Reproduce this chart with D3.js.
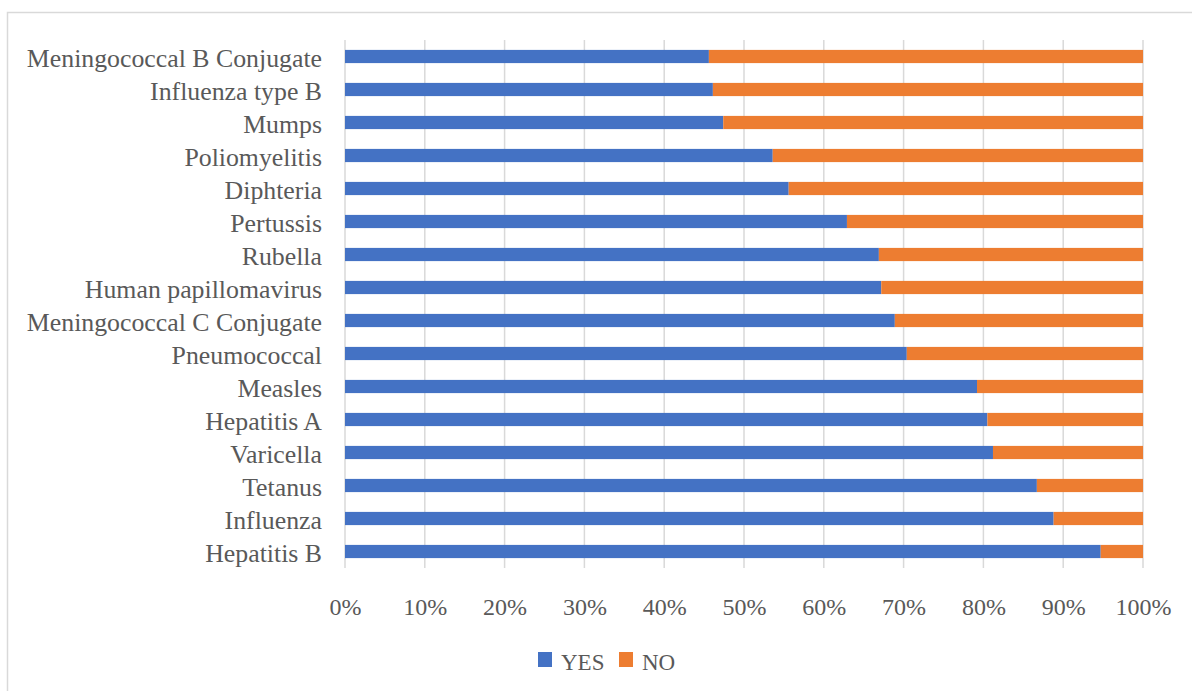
<!DOCTYPE html>
<html>
<head>
<meta charset="utf-8">
<script src="https://cdn.jsdelivr.net/npm/d3@7"></script>
<style>
  html, body { margin:0; padding:0; background:#ffffff; }
  svg text { font-family:"Liberation Serif", "DejaVu Serif", serif; fill:#595959; }
</style>
</head>
<body>
<div id="chart_container"></div>
<script>
// Categories from top to bottom, as they show in the picture.
var categories = [
  "Meningococcal B Conjugate",
  "Influenza type B",
  "Mumps",
  "Poliomyelitis",
  "Diphteria",
  "Pertussis",
  "Rubella",
  "Human papillomavirus",
  "Meningococcal C Conjugate",
  "Pneumococcal",
  "Measles",
  "Hepatitis A",
  "Varicella",
  "Tetanus",
  "Influenza",
  "Hepatitis B"
];
var values_yes  = [45.6, 46.1, 47.4, 53.6, 55.6, 62.9, 66.9, 67.2, 68.9, 70.4, 79.2, 80.5, 81.2, 86.7, 88.8, 94.7];
var values_no   = [54.4, 53.9, 52.6, 46.4, 44.4, 37.1, 33.1, 32.8, 31.1, 29.6, 20.8, 19.5, 18.8, 13.3, 11.2,  5.3];
var series_keys = ["YES", "NO"];
var tick_values = [0, 10, 20, 30, 40, 50, 60, 70, 80, 90, 100];

var chart_dimension = { height:691, width:1192 };
var chart_margin    = { top:40, right:49, bottom:123, left:345 };
var series_color    = { YES:"#4472C4", NO:"#ED7D31" };
var grid_color      = "#d9d9d9";

var table_rows = categories.map(function (_name, i) {
  return { name:_name, YES:values_yes[i], NO:values_no[i] };
});

var chart_svg = d3.select("#chart_container").append("svg")
  .attr("height", chart_dimension.height)
  .attr("width" , chart_dimension.width);

// Outer frame, only the top and left edges sit inside the picture.
chart_svg.append("rect")
  .attr("x", 7.5)
  .attr("y", 12.5)
  .attr("width" , chart_dimension.width + 20)
  .attr("height", chart_dimension.height + 20)
  .style("fill", "none")
  .style("stroke", grid_color)
  .style("stroke-width", 1.5);

var scale_x = d3.scaleLinear()
  .domain([0, 100])
  .range([chart_margin.left, chart_dimension.width - chart_margin.right]);
var scale_y = d3.scaleBand()
  .domain(categories)
  .range([chart_margin.top, chart_dimension.height - chart_margin.bottom])
  .paddingInner(0.6)
  .paddingOuter(0.3);

var plot_top    = chart_margin.top;
var plot_bottom = chart_dimension.height - chart_margin.bottom;

// Vertical grid lines.
chart_svg.append("g")
  .selectAll("line")
  .data(tick_values)
  .join("line")
  .attr("x1", function (d) { return scale_x(d); })
  .attr("x2", function (d) { return scale_x(d); })
  .attr("y1", plot_top)
  .attr("y2", plot_bottom)
  .style("stroke", grid_color)
  .style("stroke-width", 1.5);

// Stacked bars.
var stack_data = d3.stack().keys(series_keys)(table_rows);
chart_svg.append("g")
  .selectAll("g")
  .data(stack_data)
  .join("g")
  .style("fill", function (d) { return series_color[d.key]; })
  .selectAll("rect")
  .data(function (d) { return d; })
  .join("rect")
  .attr("x"     , function (d) { return scale_x(d[0]); })
  .attr("y"     , function (d) { return scale_y(d.data.name); })
  .attr("width" , function (d) { return scale_x(d[1]) - scale_x(d[0]); })
  .attr("height", scale_y.bandwidth());

// Category axis.
var axis_y = chart_svg.append("g")
  .attr("transform", "translate(" + chart_margin.left + ",0)")
  .call(d3.axisLeft(scale_y).tickSize(0).tickPadding(23));
axis_y.select(".domain").remove();
axis_y.selectAll("text")
  .attr("dy", null)
  .attr("y", 10)
  .style("font-size", "25.8px");

// Percent axis.
var axis_x = chart_svg.append("g")
  .attr("transform", "translate(0," + plot_bottom + ")")
  .call(d3.axisBottom(scale_x).tickValues(tick_values).tickSize(0).tickPadding(0)
    .tickFormat(function (d) { return d + "%"; }));
axis_x.select(".domain").remove();
axis_x.selectAll("text")
  .attr("dy", null)
  .attr("y", 47)
  .style("font-size", "24px");

// Legend.
var legend_items = [
  { key:"YES", x:538 },
  { key:"NO" , x:619 }
];
var legend_group = chart_svg.append("g");
legend_group.selectAll("rect")
  .data(legend_items)
  .join("rect")
  .attr("x", function (d) { return d.x; })
  .attr("y", 652)
  .attr("width" , 14)
  .attr("height", 15)
  .style("fill", function (d) { return series_color[d.key]; });
legend_group.selectAll("text")
  .data(legend_items)
  .join("text")
  .attr("x", function (d) { return d.x + 23; })
  .attr("y", 670)
  .style("font-size", "23px")
  .text(function (d) { return d.key; });
</script>
</body>
</html>
